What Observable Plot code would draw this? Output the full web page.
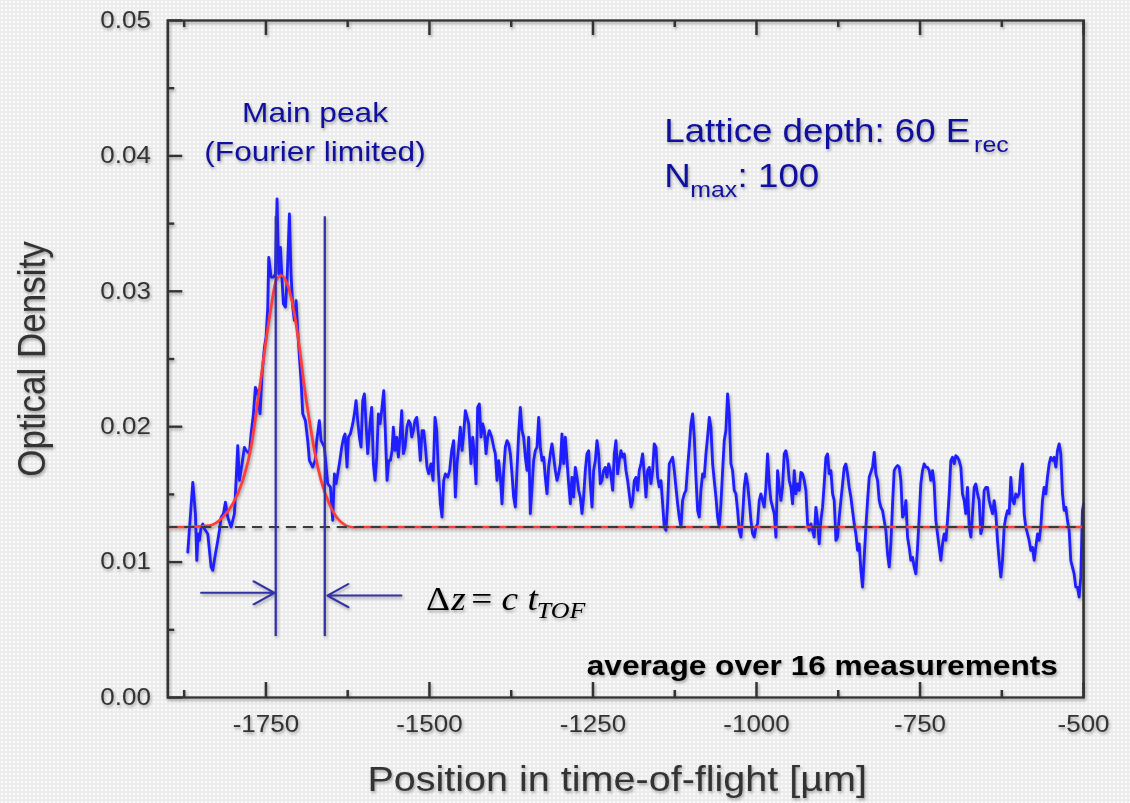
<!DOCTYPE html>
<html><head><meta charset="utf-8">
<script src="https://cdn.jsdelivr.net/npm/d3@7"></script>
<script src="https://cdn.jsdelivr.net/npm/@observablehq/plot@0.6"></script>
<style>
html,body{margin:0;padding:0;}
body{width:1130px;height:803px;overflow:hidden;background-color:#ececec;
background-image:radial-gradient(circle,#fbfbfb 0.9px,transparent 1.2px);background-size:4px 4px;}
#chart svg{display:block;transform:scaleX(1.13);transform-origin:0 0;filter:drop-shadow(1.5px 2px 1.4px rgba(0,0,0,0.33));}
</style></head>
<body><div id="chart"></div>
<script>
// ---- axis ticks ----
const xMajorTicks = [-1750, -1500, -1250, -1000, -750, -500];
const xMinorTicks = [-1875, -1625, -1375, -1125, -875, -625];
const yMajorTicks = [0, 0.01, 0.02, 0.03, 0.04, 0.05];
const yMinorTicks = [0.005, 0.015, 0.025, 0.035, 0.045];

// ---- measured optical density [position µm, OD] ----
const measured = [
[-1869.5,0.01073],[-1861.8,0.01590],[-1857.8,0.01357],[-1855.7,0.01012],[-1853.7,0.01209],[-1851.7,0.01160],[-1849.1,0.01258],[-1846.6,0.01282],[-1844.0,0.01246],[-1838.9,0.01209],
[-1833.8,0.00963],[-1831.3,0.00938],[-1827.2,0.01061],[-1823.6,0.01160],[-1821.1,0.01233],[-1818.5,0.01332],[-1815.0,0.01357],[-1811.9,0.01443],[-1808.4,0.01332],[-1803.3,0.01258],
[-1798.2,0.01357],[-1795.6,0.01603],[-1793.1,0.01861],[-1790.5,0.01603],[-1786.5,0.01726],[-1782.9,0.01849],[-1780.3,0.01824],[-1775.3,0.01800],[-1772.7,0.01947],[-1769.1,0.02095],
[-1766.1,0.02292],[-1762.5,0.02243],[-1759.0,0.02095],[-1755.9,0.02390],[-1752.3,0.02587],[-1749.8,0.02661],[-1747.2,0.02883],[-1745.7,0.03252],[-1742.1,0.03104],[-1738.6,0.03104],
[-1735.5,0.03129],[-1733.0,0.03683],[-1730.4,0.03129],[-1727.9,0.03326],[-1725.3,0.03080],[-1723.3,0.02907],[-1720.2,0.02883],[-1717.7,0.03080],[-1714.1,0.03572],[-1711.6,0.03129],
[-1709.0,0.02883],[-1706.5,0.02784],[-1703.9,0.02932],[-1701.4,0.02710],[-1698.8,0.02513],[-1696.3,0.02341],[-1693.7,0.02095],[-1689.7,0.02046],[-1686.1,0.01898],[-1683.5,0.01750],
[-1678.5,0.01701],[-1674.9,0.01750],[-1672.3,0.01898],[-1668.3,0.02046],[-1665.7,0.01898],
[-1660.6,0.01849],[-1655.5,0.01578],[-1651.4,0.01554],[-1647.9,0.01307],[-1645.3,0.01652],[-1642.8,0.01578],[-1637.7,0.01726],[-1634.1,0.01849],[-1631.1,0.01923],[-1629.0,0.01947],
[-1626.0,0.01701],[-1623.9,0.01923],[-1620.9,0.01947],[-1617.3,0.02021],[-1614.8,0.02095],[-1612.2,0.02194],[-1609.7,0.02046],[-1607.1,0.01923],[-1604.6,0.01849],[-1602.0,0.02194],
[-1599.5,0.02243],[-1596.9,0.02021],[-1594.4,0.01800],[-1590.8,0.02021],[-1588.3,0.02144],[-1585.7,0.01726],[-1583.2,0.01603],[-1580.6,0.01775],[-1578.1,0.02095],[-1575.5,0.02021],
[-1573.0,0.02120],[-1569.9,0.02267],[-1567.9,0.02021],[-1564.8,0.01603],[-1562.3,0.01750],[-1559.7,0.01750],[-1557.2,0.01824],[-1555.2,0.01997],[-1552.6,0.01824],[-1550.1,0.01923],
[-1547.5,0.01775],[-1545.0,0.01923],[-1542.4,0.02120],[-1539.9,0.01800],[-1537.3,0.01849],[-1534.3,0.01997],[-1531.7,0.02046],[-1529.2,0.02021],[-1527.1,0.01923],[-1524.6,0.01972],
[-1522.1,0.02046],[-1519.5,0.02070],[-1516.4,0.01923],[-1513.9,0.01750],[-1511.3,0.01972],[-1508.8,0.01972],[-1506.2,0.01849],[-1503.7,0.01701],[-1501.2,0.01652],[-1497.6,0.01726],
[-1494.5,0.01603],[-1491.5,0.02070],[-1488.9,0.01972],[-1486.4,0.01677],[-1483.3,0.01430],[-1480.8,0.01332],[-1478.2,0.01603],[-1475.7,0.01652],[-1472.1,0.01627],[-1469.1,0.01677],
[-1466.0,0.01824],[-1463.0,0.01898],[-1460.4,0.01480],[-1457.9,0.01726],[-1455.3,0.01849],[-1452.8,0.01997],[-1450.2,0.01824],[-1447.7,0.01947],[-1445.1,0.02120],
[-1440.0,0.02021],[-1436.5,0.01726],[-1433.9,0.01923],[-1431.4,0.01800],[-1428.8,0.01578],[-1426.3,0.02144],[-1423.7,0.02169],[-1421.2,0.01923],[-1418.6,0.02021],[-1416.1,0.01972],
[-1413.5,0.01800],[-1411.0,0.01923],[-1408.4,0.01972],[-1404.9,0.01923],[-1401.8,0.01849],[-1399.3,0.01800],[-1396.7,0.01603],[-1394.2,0.01750],[-1391.6,0.01627],[-1389.1,0.01430],
[-1386.5,0.01677],[-1384.0,0.01849],[-1381.4,0.01898],[-1378.9,0.01874],[-1376.3,0.01800],[-1373.8,0.01652],[-1371.3,0.01480],[-1368.7,0.01406],[-1366.2,0.01677],[-1363.6,0.01947],
[-1361.1,0.02144],[-1358.5,0.01972],[-1356.0,0.01923],[-1353.4,0.01775],[-1350.9,0.01677],[-1348.3,0.01923],[-1345.8,0.01357],[-1343.2,0.01554],[-1340.7,0.01750],[-1338.1,0.01824],
[-1335.6,0.01849],[-1333.0,0.02070],[-1330.5,0.01849],[-1327.9,0.01750],[-1325.4,0.01775],[-1322.9,0.01627],[-1320.3,0.01504],[-1317.8,0.01701],[-1315.2,0.01800],[-1312.7,0.01874],
[-1310.1,0.01775],[-1307.6,0.01677],[-1305.0,0.01603],[-1302.5,0.01652],[-1299.9,0.01726],[-1297.4,0.01947],[-1294.8,0.01726],[-1292.3,0.01923],[-1289.7,0.01750],[-1287.2,0.01578],
[-1284.6,0.01430],[-1282.1,0.01627],[-1279.6,0.01480],[-1277.0,0.01701],[-1274.5,0.01627],[-1271.9,0.01529],[-1269.4,0.01480],[-1266.8,0.01357],[-1264.3,0.01480],[-1261.7,0.01677],
[-1259.2,0.01800],[-1256.6,0.01824],[-1254.1,0.01578],[-1251.5,0.01406],[-1249.0,0.01677],[-1246.4,0.01750],[-1243.9,0.01898],[-1241.3,0.01800],[-1238.8,0.01578],[-1236.3,0.01603],
[-1233.7,0.01677],[-1231.2,0.01701],[-1228.6,0.01627],[-1226.1,0.01726],[-1223.5,0.01677],
[-1219.9,0.01529],[-1217.4,0.01800],[-1214.9,0.01898],[-1212.3,0.01652],[-1209.8,0.01750],[-1207.2,0.01824],[-1204.7,0.01775],[-1202.1,0.01800],[-1199.6,0.01677],[-1197.0,0.01603],
[-1194.5,0.01504],[-1191.9,0.01406],[-1189.4,0.01455],[-1186.8,0.01603],[-1184.3,0.01627],[-1181.7,0.01529],[-1179.2,0.01677],[-1176.7,0.01726],[-1174.1,0.01800],[-1171.6,0.01652],
[-1169.0,0.01480],[-1166.5,0.01677],[-1163.9,0.01701],[-1161.4,0.01578],[-1158.8,0.01677],[-1156.3,0.01874],[-1153.7,0.01849],[-1151.2,0.01627],[-1148.6,0.01554],[-1146.1,0.01603],
[-1143.5,0.01430],[-1141.0,0.01258],[-1138.4,0.01233],[-1135.9,0.01430],[-1133.4,0.01726],[-1130.8,0.01750],[-1128.3,0.01775],[-1125.7,0.01677],[-1123.2,0.01554],[-1120.6,0.01430],
[-1118.1,0.01332],[-1115.5,0.01258],[-1113.0,0.01455],[-1110.4,0.01504],[-1107.9,0.01529],[-1105.3,0.01701],[-1102.8,0.01849],[-1100.2,0.02021],[-1097.7,0.02095],[-1095.1,0.01923],
[-1092.6,0.01627],[-1090.0,0.01381],[-1087.5,0.01332],[-1085.0,0.01529],[-1082.4,0.01652],[-1079.9,0.01627],[-1077.3,0.01800],[-1074.8,0.01923],[-1072.2,0.02070],[-1069.7,0.01997],
[-1067.1,0.01726],[-1064.6,0.01603],[-1062.0,0.01480],[-1059.5,0.01332],[-1056.9,0.01258],[-1054.4,0.01430],[-1051.8,0.01677],[-1049.3,0.01898],[-1046.8,0.01972],[-1044.2,0.02243],
[-1041.7,0.02095],[-1039.1,0.01726],[-1036.6,0.01677],[-1034.0,0.01529],[-1031.5,0.01504],[-1028.9,0.01381],[-1026.4,0.01233],[-1023.8,0.01184],[-1021.3,0.01332],[-1018.7,0.01554],
[-1016.2,0.01652],[-1013.6,0.01578],[-1011.1,0.01455],[-1008.5,0.01307],[-1006.0,0.01209],[-1003.4,0.01184],[-1000.9,0.01258],
[-998.4,0.01283],[-995.8,0.01455],[-993.3,0.01504],[-990.7,0.01455],[-988.2,0.01406],[-985.6,0.01553],[-983.1,0.01800],[-980.5,0.01578],[-978.0,0.01455],[-975.4,0.01406],
[-972.9,0.01357],[-970.3,0.01184],[-967.8,0.01677],[-965.2,0.01553],[-962.7,0.01455],[-960.2,0.01553],[-957.6,0.01800],[-955.1,0.01824],[-952.5,0.01750],[-950.0,0.01603],
[-947.4,0.01553],[-944.9,0.01430],[-942.3,0.01677],[-939.8,0.01504],[-937.2,0.01578],[-934.7,0.01529],[-932.1,0.01664],[-929.6,0.01652],[-927.0,0.01603],[-924.5,0.01529],
[-921.9,0.01283],[-919.4,0.01233],[-916.8,0.01283],[-914.3,0.01233],[-911.8,0.01184],[-909.2,0.01406],[-906.7,0.01307],[-904.1,0.01135],[-901.6,0.01307],[-899.0,0.01406],
[-896.5,0.01578],[-893.9,0.01775],[-891.4,0.01800],[-888.8,0.01652],[-886.3,0.01677],[-883.7,0.01504],[-881.2,0.01455],[-878.6,0.01160],[-876.1,0.01184],[-873.5,0.01332],
[-871.0,0.01455],[-868.4,0.01578],[-865.9,0.01701],[-863.4,0.01726],[-860.8,0.01652],[-858.3,0.01553],[-855.7,0.01480],[-853.2,0.01381],[-850.6,0.01283],[-848.1,0.01209],
[-845.5,0.01086],[-843.0,0.01135],[-840.4,0.00938],[-837.9,0.00815],[-835.3,0.01036],[-832.8,0.01258],[-830.2,0.01455],[-827.7,0.01627],[-825.1,0.01664],[-822.6,0.01701],
[-820.0,0.01812],[-817.5,0.01652],[-814.9,0.01603],[-812.4,0.01455],[-809.9,0.01406],[-807.3,0.01381],[-804.8,0.01307],[-802.2,0.01233],[-799.7,0.01061],[-797.1,0.00963],
[-794.6,0.01135],[-792.0,0.01430],[-789.5,0.01677],[-786.9,0.01701],[-784.4,0.01714],[-781.8,0.01701],[-779.3,0.01603],[-776.7,0.01332],[-774.2,0.01357],[-771.6,0.01455],
[-769.1,0.01184],[-766.6,0.01110],[-764.0,0.01012],[-761.5,0.01036],[-758.9,0.00963],[-756.4,0.00913],[-753.8,0.01110],[-751.3,0.01332],[-748.8,0.01578],[-746.2,0.01677],
[-743.7,0.01726],[-741.1,0.01701],[-738.6,0.01701],[-736.0,0.01677],[-733.5,0.01603],[-730.9,0.01677],[-728.4,0.01578],[-725.8,0.01307],[-723.3,0.01209],[-720.7,0.01110],
[-718.2,0.01012],[-715.6,0.01135],[-713.1,0.01209],[-710.5,0.01160],[-708.0,0.01307],[-705.4,0.01504],[-702.9,0.01750],[-700.4,0.01775],[-697.8,0.01726],[-695.3,0.01787],
[-692.7,0.01775],[-690.2,0.01750],[-687.6,0.01701],[-685.1,0.01504],[-682.5,0.01455],[-680.0,0.01357],[-677.4,0.01553],[-674.9,0.01258],[-672.3,0.01184],[-669.8,0.01357],
[-667.2,0.01553],[-664.7,0.01578],[-662.1,0.01504],[-659.6,0.01455],[-657.1,0.01209],[-654.5,0.01258],[-652.0,0.01529],[-649.4,0.01553],[-646.9,0.01553],[-644.3,0.01455],
[-641.8,0.01406],[-639.2,0.01357],[-636.7,0.01455],[-634.1,0.01357],[-631.6,0.01160],[-629.0,0.01012],[-626.5,0.00889],[-623.9,0.01012],[-621.4,0.01258],[-618.8,0.01332],
[-616.3,0.01381],[-613.7,0.01357],[-611.2,0.01627],[-608.7,0.01455],[-606.1,0.01430],[-603.6,0.01504],[-601.0,0.01480],[-598.5,0.01504],[-595.9,0.01677],[-593.4,0.01726],
[-590.8,0.01357],[-588.3,0.01258],[-585.7,0.01209],[-583.2,0.01160],[-580.6,0.01086],[-578.1,0.01110],[-575.5,0.01012],[-573.0,0.01110],[-570.4,0.01209],[-567.9,0.01160],
[-565.4,0.01258],[-562.8,0.01455],[-560.3,0.01553],[-557.7,0.01504],[-555.2,0.01627],[-552.6,0.01726],[-550.1,0.01775],[-547.5,0.01750],[-545.0,0.01775],[-542.4,0.01701],
[-539.9,0.01824],[-537.3,0.01874],[-534.8,0.01800],[-532.2,0.01504],[-529.7,0.01381],[-527.1,0.01406],[-524.6,0.01307],[-522.0,0.01233],[-519.5,0.01012],[-517.0,0.00963],
[-514.4,0.00913],[-511.9,0.00815],[-509.3,0.00815],[-506.8,0.00741],[-504.2,0.00889],[-501.7,0.01381],[-500.0,0.01430]
];

// ---- fitted main peak ----
const fitPosition = [-1900, -1872, -1836.4, -1816, -1800.7, -1785.4, -1772.7, -1765.1, -1757.4, -1749.8, -1742.1, -1734.5, -1726.8, -1714.1, -1706.5, -1698.8, -1691.2, -1683.5, -1675.9, -1665.7, -1653.0, -1637.7, -1617.3, -1595, -500];
const fitOD = [0.0126, 0.0126, 0.0127, 0.01332, 0.0143, 0.01603, 0.01849, 0.02095, 0.02366, 0.02637, 0.02883, 0.0308, 0.03117, 0.03006, 0.02834, 0.02587, 0.02292, 0.02046, 0.01824, 0.01603, 0.0143, 0.01307, 0.01258, 0.0126, 0.0126];
const backgroundOD = 0.0126;

// ---- annotation geometry in data units ----
const markerPositions = [-1735, -1660];
const markerRange = [0.0045, 0.0355];
const arrowTail = [-1849, -1543];
const arrowTip = [-1737, -1656];
const arrowOD = [0.00773, 0.00753];

const fit = fitPosition.map((x, i) => ({x, y: fitOD[i]}));
const arrows = arrowTail.map((x1, i) => ({x1, x2: arrowTip[i], y: arrowOD[i]}));

const W = 1000, H = 803;
const mL = 148, mR = 41.6, mT = 20, mB = 106;
const plotW = W - mL - mR, plotH = H - mT - mB;
const sans = "'Liberation Sans', Arial, Helvetica, sans-serif";
const serif = "'Liberation Serif', 'Times New Roman', serif";
const axisGrey = "#333333";
const noteBlue = "#1010a0";
const lineBlue = "#3131a8";

const txt = (s, x, y, o) => Plot.text([s], {x: () => x, y: () => y, lineAnchor: "bottom", ...o});

const chart = Plot.plot({
  width: W, height: H,
  marginLeft: mL, marginRight: mR, marginTop: mT, marginBottom: mB,
  style: {background: "transparent", fontFamily: sans, overflow: "visible"},
  x: {domain: [-1900, -500]},
  y: {domain: [0, 0.05]},
  marks: [
    Plot.axisX({ticks: xMajorTicks, tickSize: 0, tickPadding: 18, tickFormat: d => String(d), fontSize: 23, color: axisGrey, label: null}),
    Plot.axisY({ticks: yMajorTicks, tickSize: 0, tickPadding: 15, tickFormat: d => d.toFixed(2), fontSize: 23, color: axisGrey, label: null}),
    // inward ticks
    Plot.ruleX(xMajorTicks, {x: d => d, insetTop: plotH - 15, stroke: axisGrey, strokeWidth: 2.2}),
    Plot.ruleX(xMinorTicks, {x: d => d, insetTop: plotH - 7, stroke: axisGrey, strokeWidth: 2.2}),
    Plot.ruleX(xMajorTicks, {x: d => d, insetBottom: plotH - 15, stroke: axisGrey, strokeWidth: 2.2}),
    Plot.ruleX(xMinorTicks, {x: d => d, insetBottom: plotH - 7, stroke: axisGrey, strokeWidth: 2.2}),
    Plot.ruleY(yMajorTicks, {y: d => d, insetRight: plotW - 13.3, stroke: axisGrey, strokeWidth: 2.4}),
    Plot.ruleY(yMinorTicks, {y: d => d, insetRight: plotW - 6.2, stroke: axisGrey, strokeWidth: 2.4}),
    // data
    Plot.line(measured, {x: d => d[0], y: d => d[1], stroke: "#1e1eff", strokeWidth: 2.5, strokeLinejoin: "round"}),
    Plot.line(fit, {x: "x", y: "y", stroke: "#ff3c3c", strokeWidth: 2.5, curve: "monotone-x"}),
    Plot.ruleY([backgroundOD], {y: d => d, stroke: "#3a3a3a", strokeWidth: 2, strokeDasharray: "9,6"}),
    // markers and arrows
    Plot.ruleX(markerPositions, {x: d => d, y1: markerRange[0], y2: markerRange[1], stroke: lineBlue, strokeWidth: 2}),
    Plot.arrow(arrows, {x1: "x1", x2: "x2", y1: "y", y2: "y", stroke: lineBlue, strokeWidth: 2, headLength: 17, headAngle: 64}),
    Plot.frame({stroke: axisGrey, strokeWidth: 2.3}),
    // axis titles
    Plot.text(["Optical Density"], {frameAnchor: "left", dx: -109, rotate: -90, textAnchor: "middle", lineAnchor: "bottom", fontSize: 35, fill: axisGrey}),
    Plot.text(["Position in time-of-flight [µm]"], {frameAnchor: "bottom", dy: 93, dx: -7.5, textAnchor: "middle", lineAnchor: "bottom", fontSize: 35, fill: axisGrey}),
    // notes
    txt("Main peak", -1675, 0.04247, {textAnchor: "middle", fontSize: 28, fill: noteBlue}),
    txt("(Fourier limited)", -1675, 0.03966, {textAnchor: "middle", fontSize: 28, fill: noteBlue}),
    txt("Lattice depth: 60 E", -1141, 0.04101, {textAnchor: "start", fontSize: 32.5, fill: noteBlue}),
    txt("rec", -667.3, 0.04028, {textAnchor: "start", fontSize: 22, fill: noteBlue}),
    txt("N", -1141, 0.03769, {textAnchor: "start", fontSize: 32.5, fill: noteBlue}),
    txt("max", -1101.3, 0.0370, {textAnchor: "start", fontSize: 22, fill: noteBlue}),
    txt(": 100", -1028.9, 0.03769, {textAnchor: "start", fontSize: 32.5, fill: noteBlue}),
    txt("average over 16 measurements", -539.3, 0.001625, {textAnchor: "end", fontSize: 28, fontWeight: "bold", fill: "#000"}),
    // Δz = c t_TOF
    txt("Δ", -1505.3, 0.00645, {textAnchor: "start", fontSize: 33, fontFamily: serif, fill: "#000"}),
    txt("z", -1466.5, 0.00645, {textAnchor: "start", fontSize: 33, fontFamily: serif, fontStyle: "italic", fill: "#000"}),
    txt("=", -1436.0, 0.00645, {textAnchor: "start", fontSize: 33, fontFamily: serif, fill: "#000"}),
    txt("c", -1390.0, 0.00645, {textAnchor: "start", fontSize: 33, fontFamily: serif, fontStyle: "italic", fill: "#000"}),
    txt("t", -1350.0, 0.00645, {textAnchor: "start", fontSize: 33, fontFamily: serif, fontStyle: "italic", fill: "#000"}),
    txt("TOF", -1336.0, 0.0059, {textAnchor: "start", fontSize: 23, fontFamily: serif, fontStyle: "italic", fill: "#000"})
  ]
});
document.getElementById("chart").appendChild(chart);
</script>
</body></html>
